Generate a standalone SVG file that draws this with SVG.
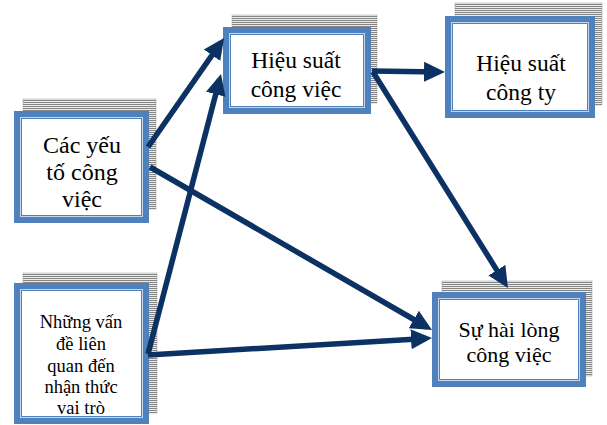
<svg xmlns="http://www.w3.org/2000/svg" width="607" height="425" viewBox="0 0 607 425">
<defs>
<pattern id="hatch" width="4" height="2" patternUnits="userSpaceOnUse">
<rect width="4" height="2" fill="#ececec"/>
<rect width="4" height="1" fill="#858585"/>
</pattern>
<marker id="arr" markerUnits="userSpaceOnUse" markerWidth="22" markerHeight="22" viewBox="0 0 22 22" refX="15" refY="11" orient="auto">
<path d="M0,1 L21,11 L0,21 Z" fill="#0c3263"/>
</marker>
</defs>
<style>
.shadow{fill:url(#hatch);stroke:#9a9a9a;stroke-width:0.5}
.frame{fill:#4f81bd}
.gap{fill:none;stroke:#c5d6ec;stroke-width:1}
.inner{fill:#ffffff}
.t{font-family:"Liberation Serif","Times New Roman",serif;fill:#000;text-anchor:middle}
.conn{stroke:#0c3263;stroke-width:5.5;fill:none;marker-end:url(#arr)}
</style>
<rect width="607" height="425" fill="#ffffff"/>

<g id="node-cac-yeu-to">
<rect class="shadow" x="23" y="99" width="133" height="110"/>
<rect class="frame" x="14" y="111" width="135" height="112"/>
<rect class="gap" x="20.5" y="117.5" width="122" height="99"/>
<rect class="inner" x="22" y="119" width="119" height="96"/>
<text class="t" font-size="24"><tspan x="82" y="153">Các yếu</tspan><tspan x="82" y="180">tố công</tspan><tspan x="82" y="207">việc</tspan></text>
</g>

<g id="node-hieu-suat-cong-viec">
<rect class="shadow" x="232" y="15" width="145" height="88"/>
<rect class="frame" x="223" y="27" width="148" height="87"/>
<rect class="gap" x="229.5" y="33.5" width="135" height="74"/>
<rect class="inner" x="231" y="35" width="132" height="71"/>
<text class="t" font-size="23.5"><tspan x="296" y="68">Hiệu suất</tspan><tspan x="296" y="97">công việc</tspan></text>
</g>

<g id="node-hieu-suat-cong-ty">
<rect class="shadow" x="455" y="3" width="147" height="102"/>
<rect class="frame" x="445" y="16" width="150" height="102"/>
<rect class="gap" x="451.5" y="22.5" width="137" height="89"/>
<rect class="inner" x="453" y="24" width="134" height="86"/>
<text class="t" font-size="23.5"><tspan x="521" y="71">Hiệu suất</tspan><tspan x="521" y="100">công ty</tspan></text>
</g>

<g id="node-nhung-van-de">
<rect class="shadow" x="23" y="273" width="134" height="140"/>
<rect class="frame" x="14" y="283" width="135" height="141"/>
<rect class="gap" x="20.5" y="289.5" width="122" height="128"/>
<rect class="inner" x="22" y="291" width="119" height="125"/>
<text class="t" font-size="18.5"><tspan x="81" y="328">Những vấn</tspan><tspan x="81" y="350">đề liên</tspan><tspan x="81" y="372">quan đến</tspan><tspan x="81" y="393">nhận thức</tspan><tspan x="81" y="414">vai trò</tspan></text>
</g>

<g id="node-su-hai-long">
<rect class="shadow" x="442" y="281" width="150" height="95"/>
<rect class="frame" x="432" y="292" width="154" height="95"/>
<rect class="gap" x="438.5" y="298.5" width="141" height="82"/>
<rect class="inner" x="440" y="300" width="138" height="79"/>
<text class="t" font-size="22"><tspan x="509" y="337">Sự hài lòng</tspan><tspan x="509" y="362">công việc</tspan></text>
</g>

<g id="connectors">
<line class="conn" x1="148" y1="147" x2="220.6" y2="42.9"/>
<line class="conn" x1="148" y1="354" x2="219.5" y2="79.8"/>
<line class="conn" x1="148" y1="355" x2="426" y2="338.4"/>
<line class="conn" x1="150" y1="167" x2="426.8" y2="327"/>
<line class="conn" x1="372" y1="71" x2="439" y2="72"/>
<line class="conn" x1="373" y1="72" x2="504.8" y2="282.9"/>
</g>
</svg>
